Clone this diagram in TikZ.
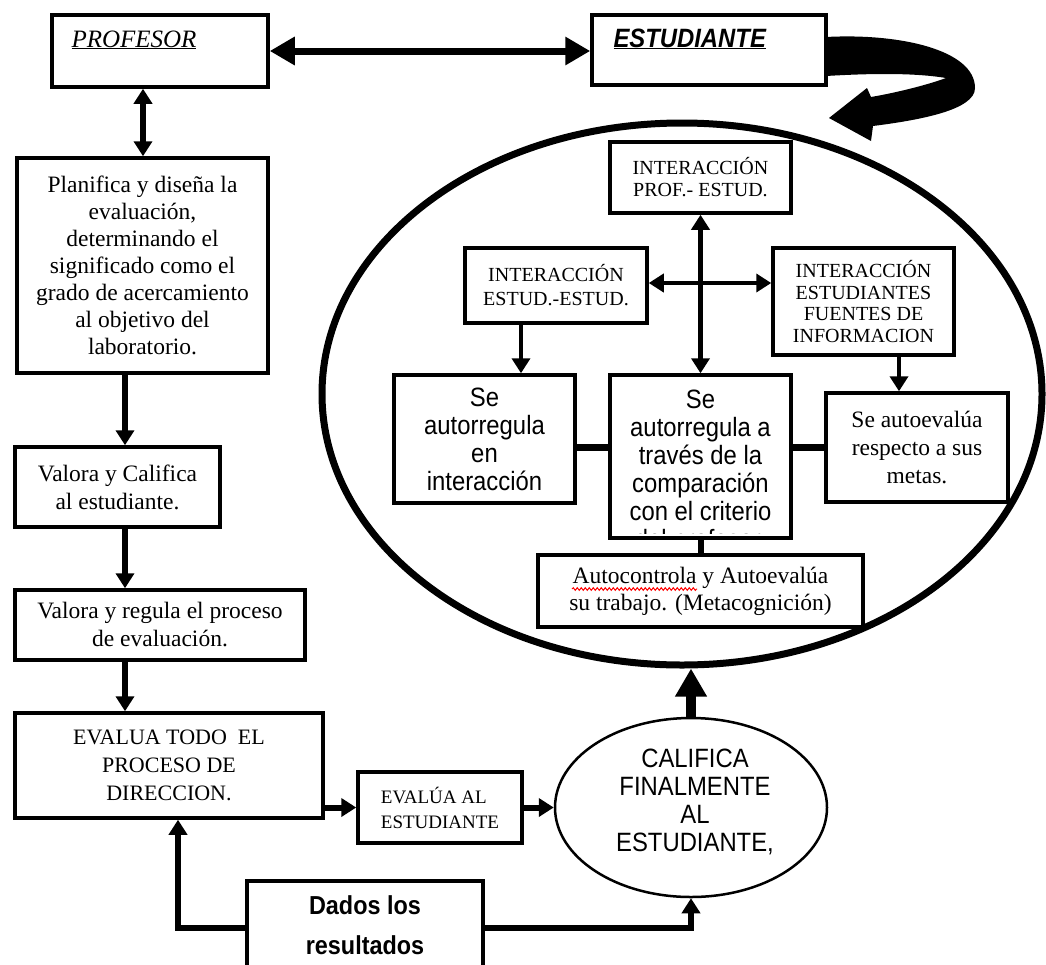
\documentclass[tikz,border=0pt]{standalone}
\usepackage{fontspec}
\setmainfont{Liberation Serif}
\newfontfamily\sansf[FakeStretch=0.9]{Liberation Sans}
\usetikzlibrary{arrows.meta,shapes.geometric,decorations.pathmorphing}

\tikzset{
  bx/.style={draw, line width=3.5pt, rectangle, fill=white, inner sep=0pt, align=center},
  txserif/.style={font=\fontsize{23.5}{28}\selectfont},
  txcaps/.style={font=\fontsize{20}{22}\selectfont},
  txsans/.style={font=\sansf\fontsize{26.5}{28}\selectfont},
  link/.style={line width=6pt},
  thin link/.style={line width=4.5pt},
  head/.style={-{Triangle[length=15pt,width=18pt]}},
  dhead/.style={{Triangle[length=15pt,width=18pt]}-{Triangle[length=15pt,width=18pt]}},
}

\begin{document}
\begin{tikzpicture}[x=1pt,y=-1pt]
\clip (0,0) rectangle (1046,964);

% helper coordinates for connector positions
\coordinate (colx) at (125,0);
\coordinate (px) at (143,0);
\coordinate (fbx) at (178,0);
\coordinate (hy) at (0,283);
\coordinate (ax) at (521,0);
\coordinate (bxx) at (899,0);
\coordinate (cy) at (0,447);

% large ellipse enclosing the student's self-regulation
\node[draw, ellipse, line width=7pt, minimum width=720pt, minimum height=542pt, inner sep=0pt] (big) at (682,394) {};

% top row
\node[bx, minimum width=216pt, minimum height=72pt] (prof) at (160,51) {};
\node[anchor=base west, font=\fontsize{25}{30}\selectfont\itshape] (proft) at (68,47) {\underline{PROFESOR}};
\node[bx, minimum width=234pt, minimum height=70pt] (est) at (709,50) {};
\node[anchor=base west, font=\sansf\bfseries\itshape\fontsize{26.5}{28}\selectfont] (estt) at (610,47) {\underline{ESTUDIANTE}};

\draw[line width=7pt, {Triangle[length=25pt,width=27pt]}-{Triangle[length=25pt,width=27pt]}]
  (prof.east) -- (prof.east -| est.west);

% curved block arrow from the student into the ellipse
\fill (826,37) .. controls (900,33) and (975,50) .. (975,88)
      .. controls (975,110) and (920,120) .. (873,126)
      -- (871,141) -- (829,118) -- (867,88) -- (871,97)
      .. controls (900,92) and (930,84) .. (946,78)
      .. controls (910,72) and (860,74) .. (826,76) -- cycle;

% left column: teacher's tasks
\node[bx, font=\fontsize{23.5}{27}\selectfont, minimum width=251pt, minimum height=215pt] (plan) at (142.5,265.5)
  {Planifica y diseña la\\evaluación,\\determinando el\\significado como el\\grado de acercamiento\\al objetivo del\\laboratorio.};
\node[bx, txserif, minimum width=205pt, minimum height=80pt] (vcal) at (117.5,487)
  {Valora y Califica\\al estudiante.};
\node[bx, txserif, minimum width=290pt, minimum height=70pt] (vreg) at (160,625)
  {Valora y regula el proceso\\de evaluación.};
\node[bx, font=\fontsize{22}{28}\selectfont, minimum width=308pt, minimum height=105pt] (evalua) at (169,765.5)
  {EVALUA TODO\ \ EL\\PROCESO DE\\DIRECCION.};
\node[bx, align=left, font=\fontsize{19}{25}\selectfont, minimum width=164pt, minimum height=71pt] (evalest) at (440,807.5)
  {EVALÚA AL\\ESTUDIANTE};
\node[draw, ellipse, fill=white, line width=2.5pt, minimum width=272pt, minimum height=179pt, inner sep=0pt] (califica) at (691,807.5) {};
\node[txsans, align=center] (calt) at (695,802) {CALIFICA\\FINALMENTE\\AL\\ESTUDIANTE,};
\node[bx, minimum width=236pt, minimum height=94pt] (dados) at (365,928) {};
\node[align=center, font=\sansf\bfseries\fontsize{26}{40}\selectfont] (dadost) at (365,925) {Dados los\\resultados};

\draw[link, dhead] (prof.south -| px) -- (plan.north -| px);
\draw[link, head] (plan.south -| colx) -- (vcal.north -| colx);
\draw[link, head] (vcal.south -| colx) -- (vreg.north -| colx);
\draw[link, head] (vreg.south -| colx) -- (evalua.north -| colx);
\draw[link, head] (evalua.east |- evalest.west) -- (evalest.west);
\draw[link, head] (evalest.east) -- (evalest.east -| califica.west);
\draw[line width=10pt, -{Triangle[length=28pt,width=30pt]}] (califica.north) -- (califica.north |- big.south);
\draw[link, head] (dados.west) -| (evalua.south -| fbx);
\draw[link, head] (dados.east) -| (califica.south);

% boxes inside the ellipse
\node[bx, txcaps, minimum width=181pt, minimum height=71pt] (iprof) at (700.5,177.5)
  {INTERACCIÓN\\PROF.- ESTUD.};
\node[bx, font=\fontsize{20}{24}\selectfont, minimum width=182pt, minimum height=75pt] (iest) at (556,285.5)
  {INTERACCIÓN\\ESTUD.-ESTUD.};
\node[bx, font=\fontsize{20}{21.5}\selectfont, minimum width=181pt, minimum height=107pt] (ifuen) at (863.5,301.5)
  {INTERACCIÓN\\ESTUDIANTES\\FUENTES DE\\INFORMACION};
\node[bx, txsans, minimum width=181pt, minimum height=128pt] (sreg) at (484.5,439)
  {Se\\autorregula\\en\\interacción};
% the comparison text runs past the bottom of its box and is cut off there
\begin{scope}
  \clip (612,377) rectangle (789,533);
  \node[txsans, align=center] (scompt) at (700.5,472)
    {Se\\autorregula a\\través de la\\comparación\\con el criterio\\del profesor.};
\end{scope}
\node[bx, fill=none, minimum width=181pt, minimum height=163pt] (scomp) at (700.5,456.5) {};
\node[bx, txserif, minimum width=182pt, minimum height=109pt] (seval) at (917,447.5)
  {Se autoevalúa\\respecto a sus\\metas.};
\node[bx, font=\fontsize{23.5}{27}\selectfont, minimum width=325pt, minimum height=72pt] (autoc) at (700.5,591)
  {Autocontrola y Autoevalúa\\su trabajo. (Metacognición)};
\draw[red, line width=1pt, decorate, decoration={snake, amplitude=1.3pt, segment length=4pt}]
  (572,589) -- (697,589);

\draw[thin link, dhead] (iprof.south) -- (scomp.north);
\draw[thin link, dhead] (iest.east |- hy) -- (ifuen.west |- hy);
\draw[line width=4pt, head] (iest.south -| ax) -- (sreg.north -| ax);
\draw[line width=4pt, head] (ifuen.south -| bxx) -- (seval.north -| bxx);
\draw[line width=7pt] (sreg.east |- cy) -- (scomp.west |- cy);
\draw[line width=7pt] (scomp.east |- cy) -- (seval.west |- cy);
\draw[line width=6pt] (scomp.south) -- (autoc.north);
\end{tikzpicture}
\end{document}
